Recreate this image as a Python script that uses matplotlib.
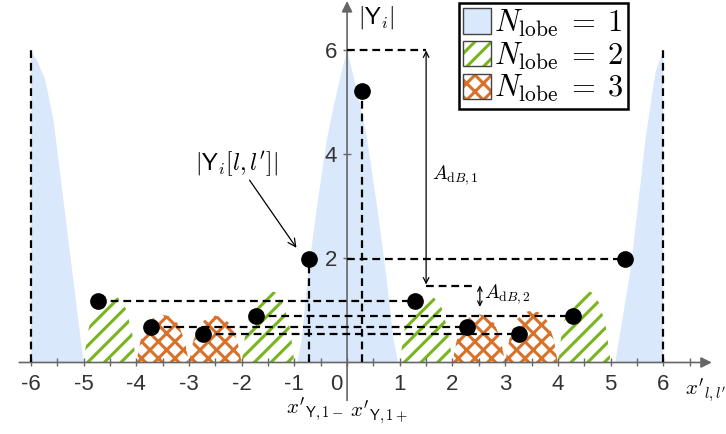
import numpy as np
import matplotlib
matplotlib.use("Agg")
import matplotlib.pyplot as plt
from matplotlib.patches import Patch
from matplotlib.legend_handler import HandlerTuple
from matplotlib.transforms import ScaledTranslation

plt.rcParams['mathtext.fontset'] = 'cm'
plt.rcParams['hatch.linewidth'] = 2.2
plt.rcParams['axes.unicode_minus'] = False

# sampled values |Y_i[l,l']|
pt_x = [-4.72, -3.72, -2.74, -1.72, -0.72, 0.28, 1.28, 2.28, 3.26, 4.28, 5.28]
pt_y = [1.19, 0.69, 0.54, 0.89, 1.99, 5.22, 1.19, 0.69, 0.54, 0.89, 1.99]

# main lobe (N_lobe = 1) outlines
main_x = [-0.94, -0.86, -0.74, -0.57, -0.38, -0.26, -0.10, 0.0, 0.10, 0.26, 0.38, 0.57, 0.74, 0.88, 0.97]
main_y = [0.0, 0.45, 1.7, 3.0, 4.3, 4.9, 5.6, 6.0, 5.6, 4.9, 4.3, 3.0, 1.7, 0.45, 0.0]
left_x = [-6.0, -6.0, -5.88, -5.73, -5.57, -5.0]
left_y = [0.0, 6.0, 5.8, 5.45, 4.66, 0.0]
right_x = [5.09, 5.37, 5.52, 5.66, 5.85, 6.0, 6.0]
right_y = [0.0, 1.72, 3.0, 4.28, 5.57, 6.0, 0.0]

# side lobes: (start, end, peak)
lobes2 = [(-5, -4, 1.3), (-2, -1, 1.4), (1, 2, 1.3), (4, 5, 1.4)]
lobes3 = [(-4, -3, 0.92), (-3, -2, 0.9), (2, 3, 0.93), (3, 4, 1.0)]
hump_t = [0, 0.08, 0.2, 0.35, 0.5, 0.65, 0.8, 0.92, 1]
hump_h = [0, 0.45, 0.8, 0.96, 1, 0.96, 0.8, 0.45, 0]

blue = '#d9e8fb'
green = '#78b51e'
orange = '#d8712a'
axcol = '#666666'

fig = plt.figure(figsize=(7.26, 4.34), dpi=100)
ax = fig.add_axes([0, 0, 1, 1])
ax.set_xlim(-6.585, 7.19)
ax.set_ylim(-1.375, 6.97)

ax.fill(main_x, main_y, color=blue, lw=0, zorder=1)
ax.fill(left_x, left_y, color=blue, lw=0, zorder=1)
ax.fill(right_x, right_y, color=blue, lw=0, zorder=1)

for a, b, h in lobes2:
    ax.fill(a + (b - a) * np.array(hump_t), h * np.array(hump_h),
            facecolor='none', edgecolor=green, hatch='//', lw=0, zorder=1)
for a, b, h in lobes3:
    ax.fill(a + (b - a) * np.array(hump_t), h * np.array(hump_h),
            facecolor='none', edgecolor=orange, hatch='xx', lw=0, zorder=1)

dash = dict(color='black', lw=1.6, dashes=(3.5, 2.2), zorder=3)
# horizontal links between periodic samples
for i in range(4):
    ax.plot([pt_x[i], pt_x[i + 6]], [pt_y[i], pt_y[i]], **dash)
ax.plot([0, pt_x[10]], [pt_y[10], pt_y[10]], **dash)
ax.plot([0, 1.5], [6, 6], **dash)
ax.plot([1.5, 2.45], [1.47, 1.47], **dash)
# verticals
ax.plot([pt_x[4], pt_x[4]], [0, pt_y[4]], **dash)
ax.plot([pt_x[5], pt_x[5]], [0, pt_y[5]], **dash)
ax.plot([-6, -6], [0, 6], **dash)
ax.plot([6, 6], [0, 6], **dash)

ax.plot(pt_x, pt_y, 'o', color='black', ms=11, zorder=5)

# axes with arrows
for s in ax.spines.values():
    s.set_visible(False)
ax.spines['left'].set_position(('data', 0))
ax.spines['bottom'].set_position(('data', 0))
ax.annotate('', xy=(6.92, 0), xytext=(-6.22, 0),
            arrowprops=dict(arrowstyle='-|>', color=axcol, lw=1.2, mutation_scale=16,
                            shrinkA=0, shrinkB=0), zorder=2)
ax.annotate('', xy=(0, 6.95), xytext=(0, -0.73),
            arrowprops=dict(arrowstyle='-|>', color=axcol, lw=1.2, mutation_scale=16,
                            shrinkA=0, shrinkB=0), zorder=2)

xt = np.arange(-6, 7, 0.5)
ax.set_xticks(xt)
ax.set_xticklabels([str(int(v)) if v == int(v) else '' for v in xt])
ax.set_yticks([2, 4, 6])
ax.set_yticklabels(['2', '4', '6'])
ax.tick_params(direction='inout', length=6, width=1, color=axcol,
               labelsize=16, labelcolor='#333333')
ax.tick_params(axis='x', pad=5)
ax.tick_params(axis='y', pad=4)
for lab in ax.get_xticklabels() + ax.get_yticklabels():
    lab.set_fontfamily('Liberation Sans')
for lab in ax.get_xticklabels():
    if lab.get_text() == '0':
        lab.set_transform(lab.get_transform() + ScaledTranslation(-8 / 72, 0, fig.dpi_scale_trans))

# labels
ax.text(0.2, 6.64, r'$|\mathsf{Y}_i|$', fontsize=17, va='center', ha='left')
ax.text(6.42, -0.55, r"$x'_{l,l'}$", fontsize=15, va='center', ha='left')
ax.text(-1.15, -0.9, r"$x'_{\mathsf{Y},1-}$", fontsize=15, va='center', ha='left')
ax.text(0.05, -0.97, r"$x'_{\mathsf{Y},1+}$", fontsize=15, va='center', ha='left')

ax.text(-2.1, 3.83, r"$|\mathsf{Y}_i[l,l']|$", fontsize=17, va='center', ha='center')
ax.annotate('', xy=(-0.93, 2.16), xytext=(-1.88, 3.55),
            arrowprops=dict(arrowstyle='->', color='black', lw=0.9, mutation_scale=14))

ax.annotate('', xy=(1.5, 6.0), xytext=(1.5, 1.5),
            arrowprops=dict(arrowstyle='<->', color='black', lw=0.9, mutation_scale=10,
                            shrinkA=0, shrinkB=0))
ax.text(1.62, 3.6, r'$A_{\mathrm{d}B,1}$', fontsize=14, va='center', ha='left')
ax.annotate('', xy=(2.52, 1.48), xytext=(2.52, 1.07),
            arrowprops=dict(arrowstyle='<->', color='black', lw=0.9, mutation_scale=8,
                            shrinkA=0, shrinkB=0))
ax.text(2.6, 1.32, r'$A_{\mathrm{d}B,2}$', fontsize=14, va='center', ha='left')

# legend
h1 = Patch(facecolor=blue, edgecolor='#444444', lw=1)
h2 = (Patch(facecolor='white', edgecolor=green, hatch='//', lw=0),
      Patch(facecolor='none', edgecolor='#444444', lw=1))
h3 = (Patch(facecolor='white', edgecolor=orange, hatch='xx', lw=0),
      Patch(facecolor='none', edgecolor='#444444', lw=1))
labels = [r'$N_{\mathrm{lobe}}\;=\;1$', r'$N_{\mathrm{lobe}}\;=\;2$', r'$N_{\mathrm{lobe}}\;=\;3$']
leg = ax.legend([h1, h2, h3], labels, handler_map={tuple: HandlerTuple(ndivide=1, pad=0)},
                loc='upper left', bbox_to_anchor=(0.632, 0.993), borderaxespad=0,
                fontsize=22, handlelength=0.9, handleheight=0.9, handletextpad=0.1,
                labelspacing=0.05, borderpad=0.15, fancybox=False, framealpha=1)
leg.get_frame().set_edgecolor('black')
leg.get_frame().set_linewidth(1.8)

fig.savefig('out.png', dpi=100)
